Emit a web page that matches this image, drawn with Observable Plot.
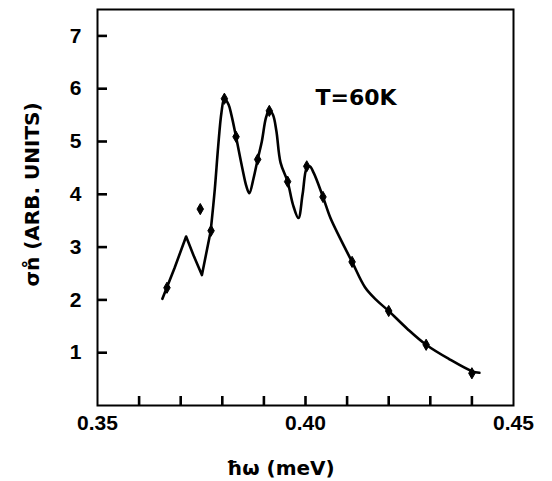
<!DOCTYPE html>
<html>
<head>
<meta charset="utf-8">
<script src="https://cdn.jsdelivr.net/npm/d3@7"></script>
<script src="https://cdn.jsdelivr.net/npm/@observablehq/plot@0.6"></script>
<style>
  html, body { margin: 0; padding: 0; background: #fff; }
</style>
</head>
<body>
<div id="chart"></div>
<script>
// Measured data points (markers)
const markerX = [0.3667, 0.3747, 0.3773, 0.3805, 0.3833, 0.3885, 0.3913, 0.3957, 0.4003, 0.4042, 0.4112, 0.4200, 0.4290, 0.4400];
const markerY = [2.23, 3.72, 3.31, 5.81, 5.09, 4.66, 5.58, 4.24, 4.53, 3.95, 2.72, 1.79, 1.15, 0.61];

// Hand-drawn fitted curve (traced); the low-energy part is drawn with straight strokes
const curveX = [0.3656, 0.3685, 0.3713, 0.3732, 0.3751, 0.3772, 0.3782, 0.3790, 0.3798, 0.3805, 0.3815, 0.3822, 0.3833, 0.3848, 0.3858, 0.3865, 0.3875, 0.3885, 0.3895, 0.3905, 0.3913, 0.3922, 0.3930, 0.3940, 0.3957, 0.3970, 0.3983, 0.3993, 0.4003, 0.4010, 0.4020, 0.4042, 0.4060, 0.4083, 0.4112, 0.4143, 0.4170, 0.4200, 0.4245, 0.4290, 0.4345, 0.4400, 0.4418];
const curveY = [2.02, 2.60, 3.20, 2.82, 2.47, 3.30, 4.10, 4.90, 5.55, 5.82, 5.70, 5.50, 5.09, 4.50, 4.15, 4.02, 4.30, 4.66, 5.00, 5.45, 5.60, 5.50, 5.20, 4.60, 4.24, 3.80, 3.55, 4.00, 4.50, 4.53, 4.40, 3.95, 3.55, 3.17, 2.72, 2.24, 2.00, 1.79, 1.45, 1.15, 0.88, 0.65, 0.62];
const straightUntil = 0.3772;

// Ticks and labels
const xTicks = [0.35, 0.36, 0.37, 0.38, 0.39, 0.40, 0.41, 0.42, 0.43, 0.44, 0.45];
const xTickLabels = {"0.35": "0.35", "0.40": "0.40", "0.45": "0.45"};
const yTicks = [1, 2, 3, 4, 5, 6, 7];
const xLabel = "\u0127\u03C9 (meV)";
const yLabel = "\u03C3n\u030A (ARB. UNITS)";
const annotation = "T=60K";

const markers = markerX.map((x, i) => ({x, y: markerY[i]}));
const curve = curveX.map((x, i) => ({x, y: curveY[i]}));
const curveA = curve.filter(d => d.x <= straightUntil);
const curveB = curve.filter(d => d.x >= straightUntil);
const innerXTicks = xTicks.slice(1, -1);

const fontBold = "'Liberation Sans', Arial, sans-serif";
const fontWide = "'DejaVu Sans', sans-serif";

const chart = Plot.plot({
  width: 552,
  height: 481,
  marginLeft: 97,
  marginRight: 39,
  marginTop: 9,
  marginBottom: 76,
  x: {domain: [0.35, 0.45]},
  y: {domain: [0, 7.5]},
  marks: [
    Plot.frame({stroke: "#000", strokeWidth: 2}),
    // tick labels
    Plot.axisX(xTicks, {
      tickSize: 0, tickPadding: 10, label: null,
      tickFormat: d => xTickLabels[d.toFixed(2)] ?? "",
      fontSize: 21, fontWeight: "bold", fontFamily: fontBold, fill: "#000"
    }),
    Plot.axisY(yTicks, {
      tickSize: 0, tickPadding: 16, label: null,
      tickFormat: d => String(d),
      fontSize: 21, fontWeight: "bold", fontFamily: fontBold, fill: "#000"
    }),
    Plot.line(curveA, {x: "x", y: "y", curve: "linear", stroke: "#000", strokeWidth: 2.6, strokeLinejoin: "round", strokeLinecap: "round"}),
    Plot.line(curveB, {x: "x", y: "y", curve: "catmull-rom", stroke: "#000", strokeWidth: 2.6, strokeLinejoin: "round", strokeLinecap: "round"}),
    Plot.dot(markers, {x: "x", y: "y", symbol: "diamond", r: 3.4, fill: "#000", stroke: "#000", strokeWidth: 1}),
    Plot.text([annotation], {
      frameAnchor: "top-left", dx: 218, dy: 88, textAnchor: "start", lineAnchor: "middle",
      fontSize: 22, fontWeight: "bold", fontFamily: fontWide, fill: "#000"
    }),
    Plot.text([xLabel], {
      frameAnchor: "bottom", dx: -25, dy: 63, textAnchor: "middle", lineAnchor: "middle",
      fontSize: 20, fontWeight: "bold", fontFamily: fontWide, fill: "#000"
    }),
    Plot.text([yLabel], {
      frameAnchor: "left", dx: -65, dy: -13, rotate: -90, textAnchor: "middle", lineAnchor: "middle",
      fontSize: 20, fontWeight: "bold", fontFamily: fontWide, fill: "#000",
      letterSpacing: 3
    }),
    // inward tick marks, drawn last
    Plot.tickX(innerXTicks, {x: d => d, insetTop: 387, stroke: "#000", strokeWidth: 2.6}),
    Plot.tickY(yTicks, {y: d => d, insetRight: 406, stroke: "#000", strokeWidth: 2.6})
  ]
});
document.getElementById("chart").appendChild(chart);
</script>
</body>
</html>
